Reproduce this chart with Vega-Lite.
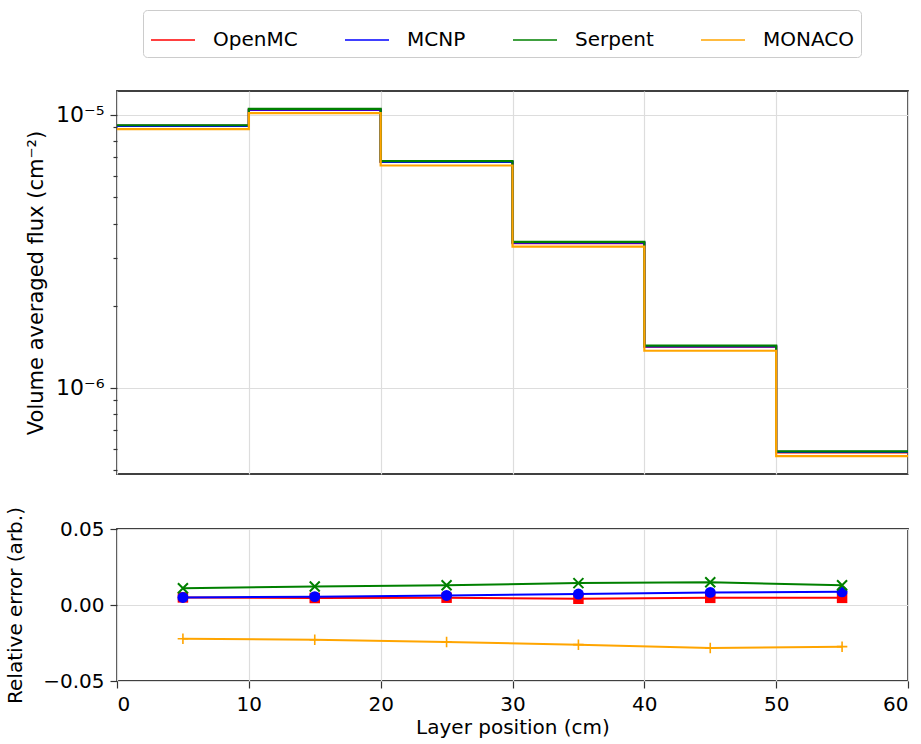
{
  "$schema": "https://vega.github.io/schema/vega-lite/v6.json",
  "background": "white",
  "padding": {"left": 4, "top": 8, "right": 10, "bottom": 6},
  "bounds": "flush",
  "spacing": 55,
  "config": {
    "font": "DejaVu Sans",
    "view": {"stroke": "#404040", "strokeWidth": 1.8},
    "axis": {
      "labelFont": "DejaVu Sans",
      "titleFont": "DejaVu Sans",
      "labelFontSize": 20,
      "titleFontSize": 20,
      "titleFontWeight": "normal",
      "labelColor": "#000000",
      "titleColor": "#000000",
      "gridColor": "#dddddd",
      "gridWidth": 1.2,
      "domain": false,
      "tickColor": "#333333",
      "tickSize": 7,
      "tickWidth": 1.2,
      "labelPadding": 6
    }
  },
  "datasets": {
    "flux": [
      {"code": "OpenMC", "position": 0, "flux": 9.115e-6},
      {"code": "OpenMC", "position": 10, "flux": 1.0441e-5},
      {"code": "OpenMC", "position": 20, "flux": 6.725e-6},
      {"code": "OpenMC", "position": 30, "flux": 3.395e-6},
      {"code": "OpenMC", "position": 40, "flux": 1.4156e-6},
      {"code": "OpenMC", "position": 50, "flux": 5.812e-7},
      {"code": "OpenMC", "position": 60, "flux": 5.812e-7},
      {"code": "MCNP", "position": 0, "flux": 9.115e-6},
      {"code": "MCNP", "position": 10, "flux": 1.045e-5},
      {"code": "MCNP", "position": 20, "flux": 6.735e-6},
      {"code": "MCNP", "position": 30, "flux": 3.405e-6},
      {"code": "MCNP", "position": 40, "flux": 1.4207e-6},
      {"code": "MCNP", "position": 50, "flux": 5.835e-7},
      {"code": "MCNP", "position": 60, "flux": 5.835e-7},
      {"code": "Serpent", "position": 0, "flux": 9.17e-6},
      {"code": "Serpent", "position": 10, "flux": 1.052e-5},
      {"code": "Serpent", "position": 20, "flux": 6.78e-6},
      {"code": "Serpent", "position": 30, "flux": 3.43e-6},
      {"code": "Serpent", "position": 40, "flux": 1.43e-6},
      {"code": "Serpent", "position": 50, "flux": 5.86e-7},
      {"code": "Serpent", "position": 60, "flux": 5.86e-7},
      {"code": "MONACO", "position": 0, "flux": 8.87e-6},
      {"code": "MONACO", "position": 10, "flux": 1.0155e-5},
      {"code": "MONACO", "position": 20, "flux": 6.53e-6},
      {"code": "MONACO", "position": 30, "flux": 3.293e-6},
      {"code": "MONACO", "position": 40, "flux": 1.369e-6},
      {"code": "MONACO", "position": 50, "flux": 5.626e-7},
      {"code": "MONACO", "position": 60, "flux": 5.626e-7}
    ],
    "err": [
      {"code": "OpenMC", "position": 5, "err": 0.0050},
      {"code": "OpenMC", "position": 15, "err": 0.0046},
      {"code": "OpenMC", "position": 25, "err": 0.0048},
      {"code": "OpenMC", "position": 35, "err": 0.0041},
      {"code": "OpenMC", "position": 45, "err": 0.0047},
      {"code": "OpenMC", "position": 55, "err": 0.0047},
      {"code": "MCNP", "position": 5, "err": 0.0050},
      {"code": "MCNP", "position": 15, "err": 0.0055},
      {"code": "MCNP", "position": 25, "err": 0.0063},
      {"code": "MCNP", "position": 35, "err": 0.0072},
      {"code": "MCNP", "position": 45, "err": 0.0083},
      {"code": "MCNP", "position": 55, "err": 0.0087},
      {"code": "Serpent", "position": 5, "err": 0.0110},
      {"code": "Serpent", "position": 15, "err": 0.0122},
      {"code": "Serpent", "position": 25, "err": 0.0130},
      {"code": "Serpent", "position": 35, "err": 0.0144},
      {"code": "Serpent", "position": 45, "err": 0.0150},
      {"code": "Serpent", "position": 55, "err": 0.0130},
      {"code": "MONACO", "position": 5, "err": -0.0222},
      {"code": "MONACO", "position": 15, "err": -0.0229},
      {"code": "MONACO", "position": 25, "err": -0.0244},
      {"code": "MONACO", "position": 35, "err": -0.0261},
      {"code": "MONACO", "position": 45, "err": -0.0283},
      {"code": "MONACO", "position": 55, "err": -0.0274}
    ]
  },
  "resolve": {"scale": {"color": "independent"}, "legend": {"color": "independent"}},
  "vconcat": [
    {
      "width": 791,
      "height": 383,
      "data": {"name": "flux"},
      "mark": {"type": "line", "interpolate": "step-after", "strokeWidth": 2.2},
      "encoding": {
        "x": {
          "field": "position", "type": "quantitative",
          "scale": {"domain": [0, 60], "nice": false, "zero": false},
          "axis": {"values": [0, 10, 20, 30, 40, 50, 60], "labels": false, "ticks": false, "title": null, "grid": true}
        },
        "y": {
          "field": "flux", "type": "quantitative",
          "scale": {"type": "log", "domain": [4.84e-7, 1.224e-5], "nice": false},
          "axis": {
            "title": "Volume averaged flux (cm⁻²)",
            "titlePadding": 9,
            "titleFontSize": 21,
            "values": [5e-7, 6e-7, 7e-7, 8e-7, 9e-7, 1e-6, 2e-6, 3e-6, 4e-6, 5e-6, 6e-6, 7e-6, 8e-6, 9e-6, 1e-5],
            "labelExpr": "datum.value == 1e-5 ? '10⁻⁵' : (datum.value == 1e-6 ? '10⁻⁶' : '')",
            "labelFontSize": 22,
            "grid": true,
            "gridOpacity": {"condition": {"test": "datum.value == 1e-5 || datum.value == 1e-6", "value": 1}, "value": 0},
            "tickSize": {"condition": {"test": "datum.value == 1e-5 || datum.value == 1e-6", "value": 7}, "value": 4}
          }
        },
        "color": {
          "field": "code", "type": "nominal",
          "scale": {"domain": ["OpenMC", "MCNP", "Serpent", "MONACO"], "range": ["#ff0000", "#0000ff", "#008000", "#ffa500"]},
          "legend": {
            "orient": "none", "legendX": 26, "legendY": -81,
            "direction": "horizontal", "columns": 4, "title": null,
            "symbolType": "stroke", "symbolSize": 1936, "symbolStrokeWidth": 1.6,
            "labelFont": "DejaVu Sans", "labelFontSize": 20, "labelColor": "#000000",
            "labelOffset": 17, "columnPadding": 43,
            "strokeColor": "#cccccc", "fillColor": "white", "cornerRadius": 4, "padding": 7
          }
        }
      }
    },
    {
      "width": 791,
      "height": 152,
      "data": {"name": "err"},
      "encoding": {
        "x": {
          "field": "position", "type": "quantitative",
          "scale": {"domain": [0, 60], "nice": false, "zero": false},
          "axis": {"values": [0, 10, 20, 30, 40, 50, 60], "title": "Layer position (cm)", "grid": true, "titlePadding": 3}
        },
        "y": {
          "field": "err", "type": "quantitative",
          "scale": {"domain": [-0.05, 0.05], "nice": false, "zero": false},
          "axis": {"values": [-0.05, 0, 0.05], "format": ".2f", "title": "Relative error (arb.)", "grid": true, "titlePadding": 17}
        },
        "color": {
          "field": "code", "type": "nominal",
          "scale": {"domain": ["OpenMC", "MCNP", "Serpent", "MONACO"], "range": ["#ff0000", "#0000ff", "#008000", "#ffa500"]},
          "legend": null
        }
      },
      "layer": [
        {"transform": [{"filter": "datum.code == 'OpenMC'"}], "mark": {"type": "line", "strokeWidth": 2}},
        {"transform": [{"filter": "datum.code == 'OpenMC'"}], "mark": {"type": "point", "filled": true, "opacity": 1, "size": 110},
         "encoding": {"shape": {"field": "code", "type": "nominal", "scale": {"domain": ["OpenMC", "MCNP", "Serpent", "MONACO"], "range": ["square", "circle", "M-1,-1L1,1M-1,1L1,-1", "M-1,0L1,0M0,-1L0,1"]}, "legend": null}}},
        {"transform": [{"filter": "datum.code == 'MCNP'"}], "mark": {"type": "line", "strokeWidth": 2}},
        {"transform": [{"filter": "datum.code == 'MCNP'"}], "mark": {"type": "point", "filled": true, "opacity": 1, "size": 120},
         "encoding": {"shape": {"field": "code", "type": "nominal", "scale": {"domain": ["OpenMC", "MCNP", "Serpent", "MONACO"], "range": ["square", "circle", "M-1,-1L1,1M-1,1L1,-1", "M-1,0L1,0M0,-1L0,1"]}, "legend": null}}},
        {"transform": [{"filter": "datum.code == 'Serpent'"}], "mark": {"type": "line", "strokeWidth": 2}},
        {"transform": [{"filter": "datum.code == 'Serpent'"}], "mark": {"type": "point", "filled": false, "opacity": 1, "size": 100, "strokeWidth": 2},
         "encoding": {"shape": {"field": "code", "type": "nominal", "scale": {"domain": ["OpenMC", "MCNP", "Serpent", "MONACO"], "range": ["square", "circle", "M-1,-1L1,1M-1,1L1,-1", "M-1,0L1,0M0,-1L0,1"]}, "legend": null}}},
        {"transform": [{"filter": "datum.code == 'MONACO'"}], "mark": {"type": "line", "strokeWidth": 2}},
        {"transform": [{"filter": "datum.code == 'MONACO'"}], "mark": {"type": "point", "filled": false, "opacity": 1, "size": 110, "strokeWidth": 1.6},
         "encoding": {"shape": {"field": "code", "type": "nominal", "scale": {"domain": ["OpenMC", "MCNP", "Serpent", "MONACO"], "range": ["square", "circle", "M-1,-1L1,1M-1,1L1,-1", "M-1,0L1,0M0,-1L0,1"]}, "legend": null}}}
      ]
    }
  ]
}
